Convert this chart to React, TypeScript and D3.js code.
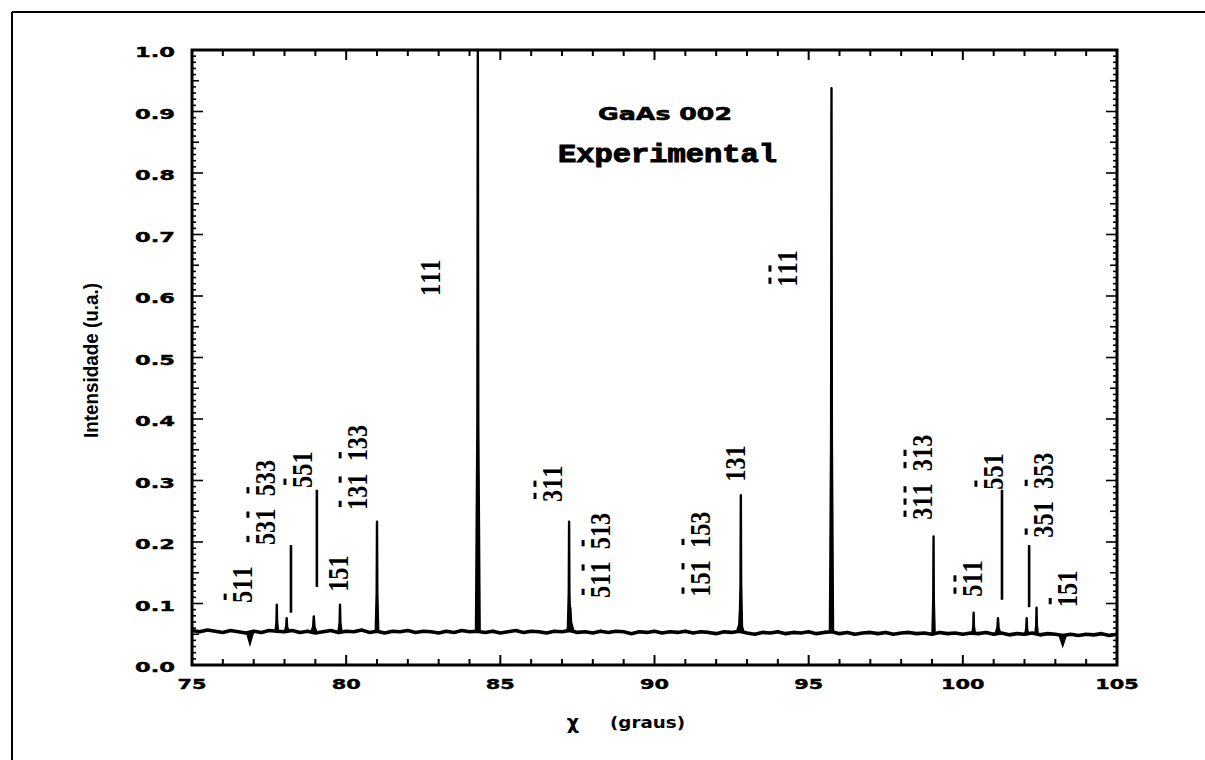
import React from "react";
import * as d3 from "d3";

const W = 1205;
const H = 760;

// Axis tick labels
const xTickLabels = [75, 80, 85, 90, 95, 100, 105];
const yTickLabels = [0.0, 0.1, 0.2, 0.3, 0.4, 0.5, 0.6, 0.7, 0.8, 0.9, 1.0];

// Baseline of the scan, sampled every 0.25 degree from 75 to 105
const baselineStart = 75;
const baselineStep = 0.25;
const baselineValues = [
  0.056, 0.054, 0.057, 0.055, 0.053, 0.056, 0.054, 0.052, 0.055, 0.053, 0.056, 0.055,
  0.054, 0.056, 0.053, 0.055, 0.052, 0.054, 0.056, 0.053, 0.055, 0.054, 0.057, 0.053,
  0.055, 0.052, 0.055, 0.054, 0.056, 0.053, 0.055, 0.054, 0.052, 0.055, 0.053, 0.056,
  0.054, 0.055, 0.053, 0.055, 0.052, 0.054, 0.056, 0.053, 0.055, 0.054, 0.052, 0.055,
  0.054, 0.056, 0.053, 0.054, 0.052, 0.055, 0.053, 0.055, 0.054, 0.051, 0.054, 0.053,
  0.055, 0.052, 0.054, 0.053, 0.055, 0.052, 0.054, 0.053, 0.051, 0.054, 0.053, 0.055,
  0.052, 0.050, 0.053, 0.052, 0.054, 0.051, 0.053, 0.052, 0.054, 0.051, 0.053, 0.054,
  0.051, 0.053, 0.050, 0.052, 0.053, 0.051, 0.053, 0.050, 0.052, 0.053, 0.051, 0.052,
  0.050, 0.053, 0.051, 0.052, 0.050, 0.052, 0.051, 0.053, 0.050, 0.052, 0.049, 0.051,
  0.050, 0.052, 0.049, 0.051, 0.050, 0.048, 0.050, 0.048, 0.050, 0.049, 0.051, 0.048,
  0.050,
];

// Peaks: centre (degrees), height (a.u.), half width (degrees)
const peakCenters = [77.75, 78.07, 78.95, 79.8, 81.0, 84.27, 87.23, 87.27, 92.8, 92.78, 95.74, 99.05, 100.35, 101.14, 102.07, 102.39];
const peakHeights = [0.098, 0.076, 0.079, 0.098, 0.233, 1.0, 0.233, 0.093, 0.276, 0.09, 0.938, 0.209, 0.085, 0.076, 0.076, 0.093];
const peakHalfWidths = [0.04, 0.06, 0.09, 0.05, 0.04, 0.06, 0.04, 0.1, 0.04, 0.1, 0.05, 0.035, 0.04, 0.08, 0.045, 0.04];

// Negative glitches
const dipCenters = [76.88, 103.24];
const dipDepths = [0.036, 0.033];
const dipHalfWidths = [0.1, 0.1];

// Narrow line segments detached from the baseline
const spikeX = [78.21, 79.05, 101.27, 102.15];
const spikeTop = [0.195, 0.285, 0.285, 0.195];
const spikeBottom = [0.085, 0.127, 0.106, 0.094];

// Reflection labels (rotated), with index of digits carrying an overbar
const labelTexts = ["511", "531 533", "551", "151", "131 133", "111", "111", "311", "511 513", "151 153", "131", "311 313", "511", "551", "351 353", "151"];
const labelX = [76.95, 77.69, 78.89, 80.06, 80.68, 83.04, 94.62, 87.0, 88.56, 91.8, 92.94, 99.0, 100.62, 101.3, 102.93, 103.71];
const labelY = [0.101, 0.195, 0.288, 0.119, 0.252, 0.6, 0.615, 0.265, 0.109, 0.111, 0.298, 0.236, 0.111, 0.285, 0.207, 0.094];
const labelBars = [[0], [0, 2, 4], [0], [], [0, 2, 4], [], [0, 1], [0, 1], [0, 2, 4], [0, 2, 4], [], [0, 1, 2, 4, 5], [0, 1], [0], [0, 4], [0]];

const x = d3.scaleLinear().domain([75, 105]).range([192, 1117]);
const y = d3.scaleLinear().domain([0, 1]).range([665, 50]);

const baseAt = (v: number) => {
  const f = (v - baselineStart) / baselineStep;
  const i = Math.max(0, Math.min(baselineValues.length - 2, Math.floor(f)));
  const t = f - i;
  return baselineValues[i] * (1 - t) + baselineValues[i + 1] * t;
};

const line = d3
  .line<[number, number]>()
  .x((d) => x(d[0]))
  .y((d) => y(d[1]));

export default function App() {
  const basePts: [number, number][] = baselineValues.map((v, i) => [baselineStart + i * baselineStep, v]);

  const xTicks = d3.range(75, 106, 1);
  const yTicks = d3.range(0, 101, 1);

  const boldSans = "'DejaVu Sans', Verdana, sans-serif";
  const serif = "'Liberation Serif', 'Times New Roman', serif";

  return (
    <svg width={W} height={H} style={{ position: "absolute", left: 0, top: 0, background: "#fff" }}>
      <rect x={0} y={0} width={W} height={H} fill="#fff" />
      {/* outer page frame */}
      <line x1={12} y1={12} x2={W} y2={12} stroke="#000" strokeWidth={2} />
      <line x1={12} y1={12} x2={12} y2={H} stroke="#000" strokeWidth={2} />

      {/* baseline */}
      <path d={line(basePts) || ""} fill="none" stroke="#000" strokeWidth={3.6} strokeLinejoin="round" />

      {/* peaks */}
      {peakCenters.map((c, i) => {
        const w = peakHalfWidths[i];
        const b = baseAt(c);
        const pts: [number, number][] = [
          [c - w, b],
          [c - w * 0.25, b + (peakHeights[i] - b) * 0.35],
          [c, peakHeights[i]],
          [c + w * 0.25, b + (peakHeights[i] - b) * 0.35],
          [c + w, b],
        ];
        return <path key={"p" + i} d={line(pts) || ""} fill="#000" stroke="#000" strokeWidth={2.4} strokeLinejoin="round" />;
      })}

      {/* dips */}
      {dipCenters.map((c, i) => {
        const w = dipHalfWidths[i];
        const b = baseAt(c);
        const pts: [number, number][] = [
          [c - w, b],
          [c, dipDepths[i]],
          [c + w, b],
        ];
        return <path key={"d" + i} d={line(pts) || ""} fill="#000" stroke="#000" strokeWidth={2.4} />;
      })}

      {/* detached spikes */}
      {spikeX.map((s, i) => (
        <line key={"s" + i} x1={x(s)} x2={x(s)} y1={y(spikeTop[i])} y2={y(spikeBottom[i])} stroke="#000" strokeWidth={2.6} />
      ))}

      {/* axis frame */}
      <rect x={x(75)} y={y(1)} width={x(105) - x(75)} height={y(0) - y(1)} fill="none" stroke="#000" strokeWidth={3} />

      {/* x ticks bottom & top */}
      {xTicks.map((t) => {
        const len = t % 5 === 0 ? 10 : 6;
        return (
          <g key={"xt" + t}>
            <line x1={x(t)} x2={x(t)} y1={y(0)} y2={y(0) - len} stroke="#000" strokeWidth={2} />
            <line x1={x(t)} x2={x(t)} y1={y(1)} y2={y(1) + len} stroke="#000" strokeWidth={2} />
          </g>
        );
      })}

      {/* y ticks left & right */}
      {yTicks.map((k) => {
        const v = k / 100;
        const len = k % 10 === 0 ? 11 : k % 5 === 0 ? 7 : 4;
        return (
          <g key={"yt" + k}>
            <line x1={x(75)} x2={x(75) + len} y1={y(v)} y2={y(v)} stroke="#000" strokeWidth={1.6} />
            <line x1={x(105)} x2={x(105) - len} y1={y(v)} y2={y(v)} stroke="#000" strokeWidth={1.6} />
          </g>
        );
      })}

      {/* x tick labels */}
      {xTickLabels.map((t) => {
        const s = String(t);
        return (
          <text
            key={"xl" + t}
            x={x(t)}
            y={689}
            textAnchor="middle"
            fontFamily={boldSans}
            fontWeight="bold"
            fontSize={14}
            textLength={s.length * 14.5}
            lengthAdjust="spacingAndGlyphs"
            stroke="#000"
            strokeWidth={0.4}
          >
            {s}
          </text>
        );
      })}

      {/* y tick labels */}
      {yTickLabels.map((t) => {
        const s = t.toFixed(1);
        return (
          <text
            key={"yl" + t}
            x={175}
            y={y(t) + 7}
            textAnchor="end"
            fontFamily={boldSans}
            fontWeight="bold"
            fontSize={14}
            textLength={40}
            lengthAdjust="spacingAndGlyphs"
            stroke="#000"
            strokeWidth={0.4}
          >
            {s}
          </text>
        );
      })}

      {/* axis titles */}
      <text x={573} y={729} textAnchor="middle" fontFamily={boldSans} fontWeight="bold" fontSize={19}>
        χ
      </text>
      <text x={610} y={728} fontFamily={boldSans} fontWeight="bold" fontSize={15} textLength={75} lengthAdjust="spacingAndGlyphs">
        (graus)
      </text>
      <text
        transform="translate(98,360.5) rotate(-90)"
        textAnchor="middle"
        fontFamily="'Liberation Sans', Arial, sans-serif"
        fontWeight="bold"
        fontSize={20}
        textLength={155}
        lengthAdjust="spacingAndGlyphs"
      >
        Intensidade (u.a.)
      </text>

      {/* chart titles */}
      <text x={598} y={120} fontFamily={boldSans} fontWeight="bold" fontSize={18} textLength={134} lengthAdjust="spacingAndGlyphs" stroke="#000" strokeWidth={0.6}>
        GaAs 002
      </text>
      <text x={558} y={162} fontFamily="'Liberation Mono', 'Courier New', monospace" fontWeight="bold" fontSize={25} textLength={219} lengthAdjust="spacingAndGlyphs" stroke="#000" strokeWidth={1}>
        Experimental
      </text>

      {/* reflection labels */}
      {labelTexts.map((txt, i) => {
        const chars = txt.split("");
        const step = 14.5;
        return (
          <g key={"lab" + i} transform={`translate(${x(labelX[i])},${y(labelY[i])}) rotate(-90) scale(0.84,1)`}>
            <text x={chars.map((_, j) => j * step).join(" ")} y={0} fontFamily={serif} fontWeight="bold" fontSize={29}>
              {txt}
            </text>
            {labelBars[i].map((j) => (
              <line key={j} x1={j * step + 3.5} x2={j * step + 11} y1={-27} y2={-27} stroke="#000" strokeWidth={3} />
            ))}
          </g>
        );
      })}
    </svg>
  );
}
